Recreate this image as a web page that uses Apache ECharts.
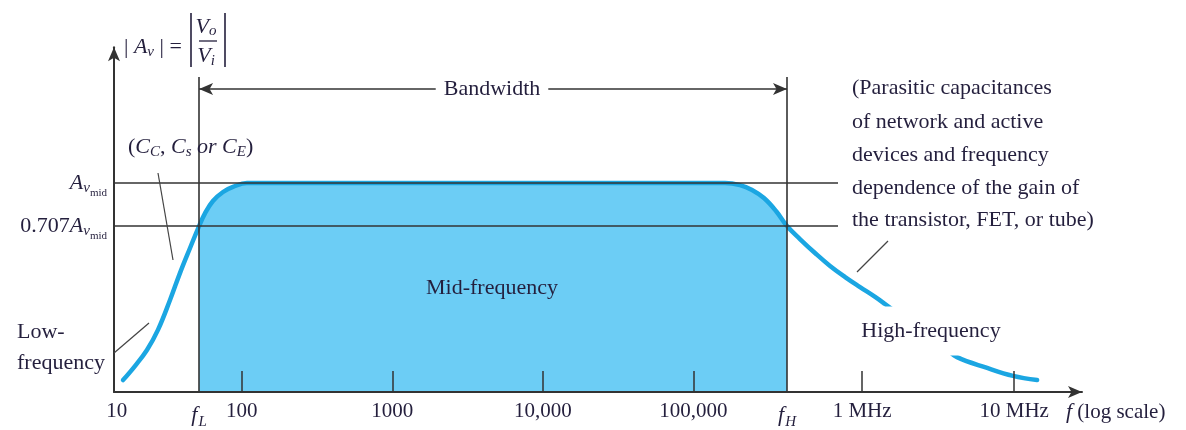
<!DOCTYPE html>
<html><head><meta charset="utf-8">
<script src="https://cdn.jsdelivr.net/npm/echarts@6/dist/echarts.min.js"></script>
<style>html,body{margin:0;padding:0;background:#fff}#c{width:1186px;height:430px}</style>
</head><body><div id="c"></div>
<script>
// curve: x = log10(frequency) position on the drawing, y = relative gain (Avmid = 1)
const freqLog = [1.212, 1.291, 1.371, 1.444, 1.524, 1.590, 1.657, 1.717, 1.757, 1.809, 1.876, 1.942, 2.035, 3.0, 4.0, 5.0, 5.209, 5.309, 5.389, 5.468, 5.548, 5.621, 5.707, 5.807, 5.907, 6.007, 6.106, 6.206, 6.272, 6.505, 6.671, 6.750, 6.950, 7.122, 7.282];
const gain    = [0.057, 0.124, 0.201, 0.297, 0.440, 0.569, 0.689, 0.794, 0.856, 0.914, 0.957, 0.981, 1.0, 1.0, 1.0, 1.0, 1.0, 0.990, 0.967, 0.928, 0.866, 0.794, 0.732, 0.665, 0.603, 0.550, 0.502, 0.455, 0.421, 0.297, 0.211, 0.167, 0.115, 0.077, 0.057];
const fL = 1.717, fH = 5.621;
const xMin = 1.152, xMax = 7.58;
const yMin = 0, yMax = 1.65;
const xTickVals = [2, 3, 4, 5, 6.12, 7.13];
const xLabelVals = [1.17, fL, 2, 3, 4, 5, fH, 6.12, 7.13];
const xLabelTexts = ['10', '{fi|f}{fs|L}', '100', '1000', '10,000', '100,000', '{fi|f}{fs|H}', '1 MHz', '10 MHz'];
const avMid = 1.0, av707 = 0.794;
const yLabelVals = [av707, avMid];
const yLabelTexts = ['0.707{i|A}{s|v}{ss|mid}', '{i|A}{s|v}{ss|mid}'];
const refLineEnd = 5.96;
const guideTop = 1.507, bandY = 1.45;

const FONT = '"Liberation Serif", "Times New Roman", serif';
const TXT = '#241f3d';
const INK = '#333333';

const curve = freqLog.map((x, i) => [x, gain[i]]);
const band = curve.filter(p => p[0] >= fL - 1e-9 && p[0] <= fH + 1e-9);

function findLabel(vals, texts, v) {
  for (let i = 0; i < vals.length; i++) if (Math.abs(vals[i] - v) < 1e-6) return texts[i];
  return '';
}

const chart = echarts.init(document.getElementById('c'), null, {renderer: 'canvas'});
const txt = (o) => Object.assign({type: 'text', z: 100, silent: true}, o);

chart.setOption({
  animation: false,
  backgroundColor: '#fff',
  grid: {left: 114, right: 104, top: 47.15, bottom: 38, containLabel: false},
  xAxis: {
    type: 'value', min: xMin, max: xMax, z: 10,
    axisLine: {show: true, symbol: ['none', 'arrow'], symbolSize: [9, 14], symbolOffset: [0, 0], lineStyle: {color: INK, width: 2}},
    axisTick: {show: true, inside: true, length: 21, customValues: xTickVals, lineStyle: {color: INK, width: 1.5}},
    axisLabel: {
      show: true, customValues: xLabelVals, margin: 9,
      fontFamily: FONT, fontSize: 21, color: TXT,
      formatter: v => findLabel(xLabelVals, xLabelTexts, v),
      rich: {
        fi: {fontFamily: FONT, fontSize: 22, fontStyle: 'italic', color: TXT},
        fs: {fontFamily: FONT, fontSize: 15, fontStyle: 'italic', color: TXT, padding: [14, 0, 0, 1]}
      }
    },
    splitLine: {show: false}
  },
  yAxis: {
    type: 'value', min: yMin, max: yMax, z: 10,
    axisLine: {show: true, symbol: ['none', 'arrow'], symbolSize: [9, 14], lineStyle: {color: INK, width: 2}},
    axisTick: {show: false},
    axisLabel: {
      show: true, customValues: yLabelVals, margin: 7,
      fontFamily: FONT, fontSize: 22, color: TXT,
      formatter: v => findLabel(yLabelVals, yLabelTexts, v),
      rich: {
        i: {fontFamily: FONT, fontSize: 22, fontStyle: 'italic', color: TXT},
        s: {fontFamily: FONT, fontSize: 15, fontStyle: 'italic', color: TXT, padding: [10, 0, 0, 0]},
        ss: {fontFamily: FONT, fontSize: 11, color: TXT, padding: [20, 0, 0, 0]}
      }
    },
    splitLine: {show: false}
  },
  series: [
    {
      name: 'band', type: 'line', data: band, smooth: 0.4, symbol: 'none', z: 1,
      lineStyle: {width: 0, opacity: 0},
      areaStyle: {color: '#6ccdf5', opacity: 1, origin: 'start'},
      silent: true
    },
    {
      name: 'gain', type: 'line', data: curve, smooth: 0.4, symbol: 'none', z: 3,
      lineStyle: {color: '#1ba6e2', width: 4.5, cap: 'round', join: 'round'},
      silent: true
    },
    {
      name: 'guides', type: 'line', data: [[fL, yMin]], symbol: 'none', z: 4,
      lineStyle: {opacity: 0}, silent: true,
      markLine: {
        silent: true, symbol: ['none', 'none'], animation: false,
        label: {show: false},
        lineStyle: {color: INK, width: 1.6, type: 'solid'},
        emphasis: {disabled: true},
        data: [
          [{coord: [fL, yMin]}, {coord: [fL, guideTop]}],
          [{coord: [fH, yMin]}, {coord: [fH, guideTop]}],
          [{coord: [xMin, avMid]}, {coord: [refLineEnd, avMid]}],
          [{coord: [xMin, av707]}, {coord: [refLineEnd, av707]}],
          [{coord: [fL, bandY], symbol: 'arrow', symbolSize: [9, 14]}, {coord: [fH, bandY], symbol: 'arrow', symbolSize: [9, 14]}]
        ]
      }
    }
  ],
  graphic: [
    // y axis title |Av| = |Vo/Vi|
    txt({x: 124, y: 47, style: {text: '{n|| }{i|A}{s|v}{n| | =}', textVerticalAlign: 'middle', fill: TXT,
      rich: {n: {fontFamily: FONT, fontSize: 22, fill: TXT}, i: {fontFamily: FONT, fontSize: 22, fontStyle: 'italic', fill: TXT},
             s: {fontFamily: FONT, fontSize: 15, fontStyle: 'italic', fill: TXT, padding: [10, 0, 0, 0]}}}}),
    txt({x: 206, y: 27, style: {text: '{i|V}{s|o}', textAlign: 'center', textVerticalAlign: 'middle',
      rich: {i: {fontFamily: FONT, fontSize: 22, fontStyle: 'italic', fill: TXT}, s: {fontFamily: FONT, fontSize: 15, fontStyle: 'italic', fill: TXT, padding: [8, 0, 0, 0]}}}}),
    txt({x: 206, y: 56, style: {text: '{i|V}{s|i}', textAlign: 'center', textVerticalAlign: 'middle',
      rich: {i: {fontFamily: FONT, fontSize: 22, fontStyle: 'italic', fill: TXT}, s: {fontFamily: FONT, fontSize: 15, fontStyle: 'italic', fill: TXT, padding: [10, 0, 0, 0]}}}}),
    {type: 'line', z: 100, silent: true, shape: {x1: 199, y1: 41, x2: 217, y2: 41}, style: {stroke: TXT, lineWidth: 1.3}},
    {type: 'line', z: 100, silent: true, shape: {x1: 191, y1: 13, x2: 191, y2: 67}, style: {stroke: TXT, lineWidth: 1.6}},
    {type: 'line', z: 100, silent: true, shape: {x1: 225, y1: 13, x2: 225, y2: 67}, style: {stroke: TXT, lineWidth: 1.6}},
    // Bandwidth
    txt({x: 492, y: 89, style: {text: 'Bandwidth', font: '22px ' + FONT, fill: TXT, textAlign: 'center', textVerticalAlign: 'middle', backgroundColor: '#fff', padding: [2, 8, 2, 8]}}),
    // coupling caps
    txt({x: 128, y: 147, style: {text: '{n|(}{i|C}{s|C}{n|, }{i|C}{s|s}{i| or C}{s|E}{n|)}', textVerticalAlign: 'middle',
      rich: {n: {fontFamily: FONT, fontSize: 22, fill: TXT}, i: {fontFamily: FONT, fontSize: 22, fontStyle: 'italic', fill: TXT},
             s: {fontFamily: FONT, fontSize: 15, fontStyle: 'italic', fill: TXT, padding: [10, 0, 0, 0]}}}}),
    {type: 'line', z: 100, silent: true, shape: {x1: 158, y1: 173, x2: 173, y2: 260}, style: {stroke: '#444', lineWidth: 1.2}},
    // low frequency
    txt({x: 17, y: 332, style: {text: 'Low-', font: '22px ' + FONT, fill: TXT, textVerticalAlign: 'middle'}}),
    txt({x: 17, y: 363, style: {text: 'frequency', font: '22px ' + FONT, fill: TXT, textVerticalAlign: 'middle'}}),
    {type: 'line', z: 100, silent: true, shape: {x1: 114, y1: 353, x2: 149, y2: 323}, style: {stroke: '#444', lineWidth: 1.2}},
    // mid
    txt({x: 492, y: 288, style: {text: 'Mid-frequency', font: '22px ' + FONT, fill: TXT, textAlign: 'center', textVerticalAlign: 'middle'}}),
    // parasitic
    txt({x: 852, y: 88, style: {text: '(Parasitic capacitances', font: '22px ' + FONT, fill: TXT, textVerticalAlign: 'middle'}}),
    txt({x: 852, y: 122, style: {text: 'of network and active', font: '22px ' + FONT, fill: TXT, textVerticalAlign: 'middle'}}),
    txt({x: 852, y: 155, style: {text: 'devices and frequency', font: '22px ' + FONT, fill: TXT, textVerticalAlign: 'middle'}}),
    txt({x: 852, y: 188, style: {text: 'dependence of the gain of', font: '22px ' + FONT, fill: TXT, textVerticalAlign: 'middle'}}),
    txt({x: 852, y: 220, style: {text: 'the transistor, FET, or tube)', font: '22px ' + FONT, fill: TXT, textVerticalAlign: 'middle'}}),
    {type: 'line', z: 100, silent: true, shape: {x1: 888, y1: 241, x2: 857, y2: 272}, style: {stroke: '#444', lineWidth: 1.2}},
    // high frequency (white box hides curve)
    txt({x: 931, y: 331, style: {text: 'High-frequency', font: '22px ' + FONT, fill: TXT, textAlign: 'center', textVerticalAlign: 'middle', backgroundColor: '#fff', padding: [14, 4, 13, 4]}}),
    // axis name
    txt({x: 1066, y: 412, style: {text: '{i|f} (log scale)', font: '21px ' + FONT, fill: TXT, textVerticalAlign: 'middle',
      rich: {i: {fontFamily: FONT, fontSize: 22, fontStyle: 'italic', fill: TXT}}}})
  ]
});
</script>
</body></html>
